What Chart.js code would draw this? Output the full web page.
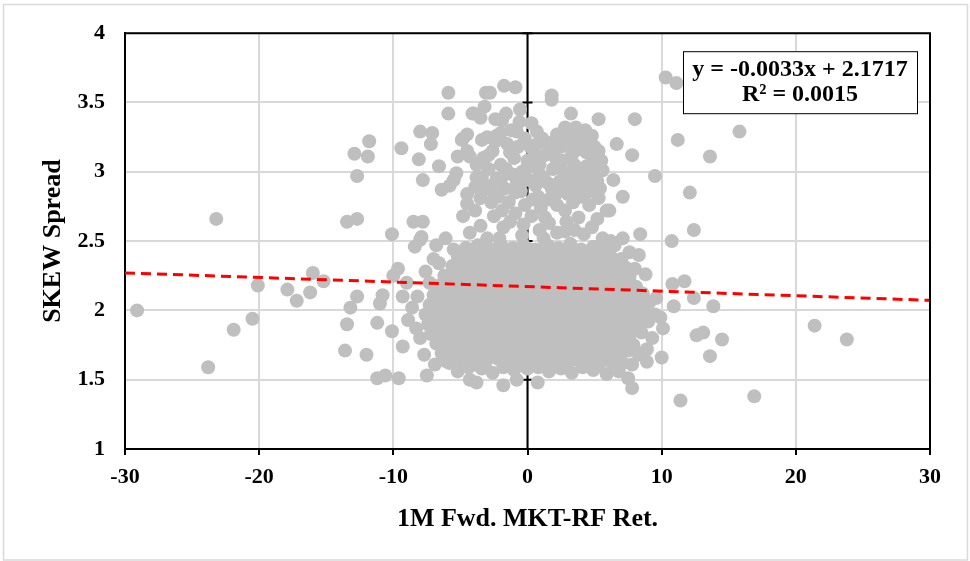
<!DOCTYPE html>
<html>
<head>
<meta charset="utf-8">
<title>SKEW Spread vs 1M Fwd. MKT-RF Ret.</title>
<script src="https://cdn.jsdelivr.net/npm/chart.js@4.4.1/dist/chart.umd.min.js"></script>
<style>
  html, body { margin: 0; padding: 0; background: #ffffff; }
  canvas { display: block; }
</style>
</head>
<body>
<canvas id="skewChart" width="970" height="561"></canvas>
<script>
// Scatter of SKEW spread against 1M forward MKT-RF return
const SERIF = "'Liberation Serif', 'Times New Roman', serif";

// scattered points away from the two clouds: [ret, skew]
const sparsePoints = [
    [-29.1, 2.00], [-23.2, 2.66], [-23.8, 1.59], [-21.9, 1.86], [-20.5, 1.94], [-20.1, 2.18],
    [-17.9, 2.15], [-17.2, 2.07], [-16.2, 2.13], [-16.0, 2.27], [-15.2, 2.21],
    [-13.45, 2.64], [-12.7, 2.66], [-12.7, 2.10], [-13.2, 2.02], [-13.45, 1.90], [-13.6, 1.71],
    [-12.0, 1.68], [-11.2, 1.51], [-11.2, 1.91],
    [-12.9, 3.13], [-11.8, 3.22], [-11.9, 3.11], [-12.7, 2.97], [-9.4, 3.17], [-8.0, 3.29],
    [-7.1, 3.28], [-7.2, 3.20], [-8.1, 3.09], [-6.6, 3.04], [-7.8, 2.94], [-6.4, 2.87],
    [-10.1, 2.55], [-8.5, 2.64], [-7.8, 2.64], [-7.9, 2.53], [-6.1, 2.52],
    [-5.9, 3.57], [-5.9, 3.42], [-3.1, 3.57], [-2.8, 3.57], [-1.75, 3.62], [-0.9, 3.61],
    [-0.56, 3.45], [1.8, 3.55], [1.8, 3.52], [3.24, 3.42], [5.3, 3.38], [8.0, 3.38],
    [10.3, 3.68], [11.1, 3.64], [11.2, 3.23], [9.5, 2.97], [12.1, 2.85], [12.4, 2.58],
    [6.65, 3.20], [7.8, 3.12], [6.4, 2.94], [7.1, 2.82], [6.1, 2.72], [8.4, 2.55], [7.1, 2.52],
    [10.75, 2.50], [15.8, 3.29], [13.6, 3.11],
    [10.8, 2.19], [11.7, 2.21], [12.4, 2.09], [10.9, 2.03], [13.85, 2.03], [10.1, 1.87],
    [12.6, 1.82], [13.1, 1.84], [14.5, 1.79], [13.6, 1.67], [10.0, 1.66], [8.9, 1.63],
    [11.4, 1.35], [16.9, 1.38], [9.6, 2.09], [21.4, 1.89], [23.8, 1.79], [7.8, 1.61],
    [7.5, 1.51], [7.8, 1.44], [0.76, 1.48], [8.0, 2.30],
    [-8.4, 2.46], [-8.0, 2.51], [-7.0, 2.37], [-9.65, 2.30], [-10.0, 2.25], [-7.6, 2.28],
    [-10.8, 2.11], [-11.0, 2.05], [-9.3, 2.10], [-8.2, 2.10], [-10.1, 1.85], [-9.3, 1.74],
    [-8.3, 1.87], [-10.6, 1.53], [-9.6, 1.51], [-7.5, 1.53], [-4.3, 1.50], [-3.8, 1.48],
    [-1.8, 1.46], [-0.8, 1.50], [-6.0, 1.63], [-4.5, 1.61],
    [-6.6, 2.34], [-7.3, 2.20], [-8.6, 2.02], [-8.9, 1.93], [-8.0, 1.80], [-7.7, 1.68],
    [-6.9, 1.61], [-9.0, 2.20], [-5.5, 2.44], [-6.8, 2.47],
    [8.8, 2.26], [8.3, 2.40], [9.3, 1.80], [9.9, 1.95], [8.9, 1.72], [6.2, 2.50], [7.6, 2.42]
];

// upper cloud around skew 2.6 - 3.4
const upperCluster = [
    [-4.0, 3.42], [-3.2, 3.47], [-1.9, 3.37], [-3.5, 3.39], [-4.5, 3.27], [-4.9, 3.23],
    [-5.2, 3.11], [-4.3, 3.11], [-3.4, 3.23], [-2.3, 3.26], [-0.8, 3.29], [-5.3, 2.99],
    [-3.8, 2.96], [-5.5, 2.94], [-5.8, 2.90], [-4.5, 2.84], [-3.5, 2.81], [-4.5, 2.77],
    [-1.9, 2.72], [-2.7, 2.90], [-1.3, 2.64], [-3.5, 2.61], [-4.3, 2.56], [-4.8, 3.24],
    [-3.0, 3.25], [-4.5, 3.15], [-4.1, 3.42],
    [0.7, 3.29], [2.3, 3.27], [4.8, 3.26], [3.5, 3.23], [5.0, 3.18], [5.5, 3.08], [5.6, 3.01],
    [5.0, 2.99], [4.3, 2.87], [5.3, 2.81], [5.9, 2.72], [3.8, 2.67], [4.8, 2.60], [2.8, 2.57],
    [1.3, 2.67], [0.8, 2.82], [3.0, 2.84], [2.9, 3.25], [3.9, 3.24], [2.2, 3.27],
    [-2.6, 3.15], [-2.0, 3.05], [-1.5, 3.20], [-1.0, 3.10], [-0.4, 3.00], [0.2, 3.18],
    [0.9, 3.05], [1.5, 3.20], [2.1, 3.10], [2.7, 3.00], [3.3, 3.12], [3.9, 3.02], [4.4, 3.14],
    [4.9, 3.07],
    [-2.3, 2.95], [-1.7, 2.88], [-1.1, 2.98], [-0.5, 2.86], [0.1, 2.94], [0.6, 2.90],
    [1.2, 2.96], [1.8, 2.88], [2.4, 2.93], [3.0, 2.97], [3.6, 2.91], [4.2, 2.96], [4.7, 2.93],
    [-2.9, 3.02], [-2.2, 2.82], [-1.4, 2.78], [-0.9, 2.85], [-0.2, 2.76], [0.4, 2.80],
    [1.0, 2.74], [1.6, 2.80], [2.2, 2.76], [2.8, 2.72], [3.4, 2.78], [4.0, 2.82], [4.6, 2.76],
    [-3.3, 3.10], [-2.4, 3.22], [-1.2, 3.30], [-0.2, 3.24], [0.5, 3.12], [1.1, 3.24],
    [1.9, 3.02], [2.5, 3.18], [3.1, 3.20], [3.8, 3.16], [4.4, 3.04], [5.2, 2.93],
    [-3.8, 3.05], [-3.9, 2.89], [-3.1, 2.88], [-2.7, 2.78], [-0.6, 3.36], [0.3, 3.35],
    [-1.6, 3.42], [-2.4, 3.38],
    [-2.5, 2.68], [-1.8, 2.60], [-0.9, 2.70], [-0.3, 2.62], [0.3, 2.68], [0.9, 2.58],
    [1.6, 2.63], [2.2, 2.56], [2.9, 2.64], [3.5, 2.58], [4.2, 2.55], [5.2, 2.66], [5.6, 2.52],
    [-3.0, 2.52], [-2.1, 2.52], [-0.4, 2.54], [1.2, 2.52], [-4.8, 2.68], [-3.9, 2.72],
    [-2.0, 3.28], [-1.3, 3.14], [-0.7, 3.18], [0.0, 3.08], [0.7, 3.20], [1.3, 3.12],
    [2.0, 3.22], [2.6, 3.08], [3.5, 3.05], [4.1, 3.21], [4.7, 3.00], [5.3, 3.15],
    [-2.6, 2.86], [-1.9, 2.96], [-0.8, 2.92], [-0.1, 3.02], [0.9, 2.98], [1.5, 2.92],
    [2.1, 2.84], [2.7, 2.90], [3.3, 2.98], [3.9, 2.86], [4.6, 2.86], [5.4, 2.88],
    [-3.4, 2.96], [-2.9, 3.12], [-1.6, 3.02], [-0.4, 2.94], [0.4, 3.04], [1.9, 3.16],
    [2.8, 3.32], [3.6, 3.32], [4.3, 3.30]
];

// dense lower cloud around skew 1.5 - 2.5
const coreCluster = [
    [-4.6, 2.45], [-3.7, 2.47], [-2.9, 2.44], [-2.0, 2.48], [-1.1, 2.45], [-0.3, 2.47], [0.6, 2.44],
    [1.5, 2.47], [2.3, 2.45], [3.2, 2.48], [4.0, 2.44], [4.9, 2.46], [5.7, 2.43], [6.5, 2.47],
    [-5.2, 2.39], [-4.2, 2.41], [-3.3, 2.38], [-2.5, 2.40], [-1.6, 2.42], [-0.7, 2.38], [0.2, 2.41],
    [1.0, 2.39], [1.9, 2.42], [2.8, 2.38], [3.6, 2.40], [4.5, 2.41], [5.3, 2.38], [6.1, 2.40], [7.0, 2.37],
    [-5.6, 2.32], [-4.7, 2.34], [-3.8, 2.31], [-2.9, 2.33], [-2.1, 2.35], [-1.2, 2.32], [-0.3, 2.34],
    [0.6, 2.31], [1.4, 2.33], [2.3, 2.35], [3.1, 2.32], [4.0, 2.34], [4.8, 2.31], [5.7, 2.33],
    [6.6, 2.34], [7.3, 2.31],
    [-6.2, 2.25], [-5.2, 2.27], [-4.3, 2.24], [-3.4, 2.26], [-2.5, 2.28], [-1.6, 2.25], [-0.8, 2.27],
    [0.1, 2.24], [1.0, 2.26], [1.8, 2.28], [2.7, 2.25], [3.5, 2.27], [4.4, 2.24], [5.2, 2.26],
    [6.1, 2.28], [6.9, 2.25], [7.6, 2.24],
    [-6.6, 2.18], [-5.7, 2.20], [-4.8, 2.17], [-3.9, 2.19], [-3.0, 2.21], [-2.1, 2.18], [-1.2, 2.20],
    [-0.4, 2.17], [0.5, 2.19], [1.4, 2.21], [2.2, 2.18], [3.1, 2.20], [3.9, 2.17], [4.8, 2.19],
    [5.6, 2.21], [6.5, 2.18], [7.3, 2.20], [8.1, 2.17],
    [-7.0, 2.11], [-6.1, 2.13], [-5.2, 2.10], [-4.3, 2.12], [-3.5, 2.14], [-2.6, 2.11], [-1.7, 2.13],
    [-0.8, 2.10], [0.1, 2.12], [0.9, 2.14], [1.8, 2.11], [2.6, 2.13], [3.5, 2.10], [4.3, 2.12],
    [5.2, 2.14], [6.0, 2.11], [6.9, 2.13], [7.7, 2.10], [8.6, 2.12],
    [-7.3, 2.04], [-6.5, 2.06], [-5.6, 2.03], [-4.7, 2.05], [-3.8, 2.07], [-2.9, 2.04], [-2.1, 2.06],
    [-1.2, 2.03], [-0.3, 2.05], [0.5, 2.07], [1.4, 2.04], [2.2, 2.06], [3.1, 2.03], [4.0, 2.05],
    [4.8, 2.07], [5.7, 2.04], [6.5, 2.06], [7.4, 2.03], [8.2, 2.05], [9.1, 2.06],
    [-7.6, 1.97], [-6.8, 1.99], [-5.9, 1.96], [-5.0, 1.98], [-4.2, 2.00], [-3.3, 1.97], [-2.4, 1.99],
    [-1.6, 1.96], [-0.7, 1.98], [0.2, 2.00], [1.0, 1.97], [1.9, 1.99], [2.7, 1.96], [3.6, 1.98],
    [4.4, 2.00], [5.3, 1.97], [6.1, 1.99], [7.0, 1.96], [7.8, 1.98], [8.7, 2.00], [9.5, 1.97],
    [-7.4, 1.90], [-6.5, 1.92], [-5.6, 1.89], [-4.8, 1.91], [-3.9, 1.93], [-3.0, 1.90], [-2.1, 1.92],
    [-1.2, 1.89], [-0.4, 1.91], [0.5, 1.93], [1.3, 1.90], [2.2, 1.92], [3.0, 1.89], [3.9, 1.91],
    [4.8, 1.93], [5.6, 1.90], [6.5, 1.92], [7.3, 1.89], [8.2, 1.91], [9.0, 1.92],
    [-7.2, 1.83], [-6.3, 1.85], [-5.4, 1.82], [-4.5, 1.84], [-3.6, 1.86], [-2.7, 1.83], [-1.9, 1.85],
    [-1.0, 1.82], [-0.1, 1.84], [0.8, 1.86], [1.6, 1.83], [2.5, 1.85], [3.3, 1.82], [4.2, 1.84],
    [5.1, 1.86], [5.9, 1.83], [6.8, 1.85], [7.6, 1.82], [8.5, 1.84],
    [-6.8, 1.76], [-5.9, 1.78], [-5.0, 1.75], [-4.2, 1.77], [-3.3, 1.79], [-2.4, 1.76], [-1.5, 1.78],
    [-0.6, 1.75], [0.2, 1.77], [1.1, 1.79], [2.0, 1.76], [2.8, 1.78], [3.7, 1.75], [4.5, 1.77],
    [5.4, 1.79], [6.2, 1.76], [7.1, 1.78], [7.9, 1.75],
    [-6.4, 1.69], [-5.5, 1.71], [-4.6, 1.68], [-3.7, 1.70], [-2.9, 1.72], [-2.0, 1.69], [-1.1, 1.71],
    [-0.2, 1.68], [0.7, 1.70], [1.5, 1.72], [2.4, 1.69], [3.2, 1.71], [4.1, 1.68], [5.0, 1.70],
    [5.8, 1.72], [6.7, 1.69], [7.5, 1.71], [8.3, 1.68],
    [-5.8, 1.62], [-4.9, 1.64], [-4.0, 1.61], [-3.1, 1.63], [-2.2, 1.65], [-1.4, 1.62], [-0.5, 1.64],
    [0.4, 1.61], [1.2, 1.63], [2.1, 1.65], [2.9, 1.62], [3.8, 1.64], [4.6, 1.61], [5.5, 1.63],
    [6.3, 1.65], [7.1, 1.62],
    [-5.2, 1.56], [-3.4, 1.58], [-2.6, 1.55], [-1.0, 1.57], [0.0, 1.58], [1.6, 1.56], [2.5, 1.58],
    [3.3, 1.55], [4.9, 1.57], [5.9, 1.54], [6.8, 1.56]
];

// in-between points that close the gaps of the lower cloud
const coreFill = [
    [-4.2, 2.43], [-3.3, 2.42], [-2.4, 2.44], [-1.5, 2.43], [-0.7, 2.42], [0.2, 2.44], [1.1, 2.43],
    [1.9, 2.42], [2.8, 2.44], [3.6, 2.43], [4.5, 2.42], [5.3, 2.44], [6.1, 2.43],
    [-4.9, 2.36], [-4.0, 2.37], [-3.1, 2.35], [-2.2, 2.37], [-1.4, 2.36], [-0.5, 2.35], [0.4, 2.37],
    [1.2, 2.36], [2.1, 2.38], [3.0, 2.36], [3.8, 2.35], [4.7, 2.37], [5.5, 2.36], [6.4, 2.37],
    [-5.4, 2.29], [-4.5, 2.30], [-3.6, 2.28], [-2.7, 2.30], [-1.8, 2.29], [-1.0, 2.28], [-0.1, 2.30],
    [0.8, 2.29], [1.6, 2.31], [2.5, 2.29], [3.4, 2.28], [4.2, 2.30], [5.1, 2.29], [5.9, 2.30], [6.8, 2.28],
    [-5.9, 2.22], [-5.0, 2.23], [-4.1, 2.21], [-3.2, 2.23], [-2.3, 2.22], [-1.5, 2.21], [-0.6, 2.23],
    [0.3, 2.22], [1.1, 2.24], [2.0, 2.22], [2.9, 2.21], [3.7, 2.23], [4.6, 2.22], [5.4, 2.23],
    [6.3, 2.21], [7.1, 2.23],
    [-6.3, 2.15], [-5.4, 2.16], [-4.5, 2.14], [-3.6, 2.16], [-2.8, 2.15], [-1.9, 2.14], [-1.0, 2.16],
    [-0.2, 2.15], [0.7, 2.17], [1.6, 2.15], [2.4, 2.14], [3.3, 2.16], [4.1, 2.15], [5.0, 2.16],
    [5.8, 2.14], [6.7, 2.16], [7.5, 2.15],
    [-6.8, 2.08], [-5.9, 2.09], [-5.0, 2.07], [-4.1, 2.09], [-3.3, 2.08], [-2.4, 2.07], [-1.5, 2.09],
    [-0.7, 2.08], [0.2, 2.10], [1.0, 2.08], [1.9, 2.07], [2.8, 2.09], [3.6, 2.08], [4.5, 2.09],
    [5.3, 2.07], [6.2, 2.09], [7.0, 2.08], [7.9, 2.07],
    [-7.0, 2.01], [-6.1, 2.02], [-5.2, 2.00], [-4.4, 2.02], [-3.5, 2.01], [-2.6, 2.00], [-1.8, 2.02],
    [-0.9, 2.01], [0.0, 2.03], [0.8, 2.01], [1.7, 2.00], [2.5, 2.02], [3.4, 2.01], [4.2, 2.02],
    [5.1, 2.00], [5.9, 2.02], [6.8, 2.01], [7.6, 2.00], [8.5, 2.02],
    [-6.9, 1.94], [-6.0, 1.95], [-5.1, 1.93], [-4.3, 1.95], [-3.4, 1.94], [-2.5, 1.93], [-1.7, 1.95],
    [-0.8, 1.94], [0.1, 1.96], [0.9, 1.94], [1.8, 1.93], [2.6, 1.95], [3.5, 1.94], [4.3, 1.95],
    [5.2, 1.93], [6.0, 1.95], [6.9, 1.94], [7.7, 1.93], [8.6, 1.95],
    [-6.8, 1.87], [-5.9, 1.88], [-5.0, 1.86], [-4.1, 1.88], [-3.2, 1.87], [-2.3, 1.86], [-1.5, 1.88],
    [-0.6, 1.87], [0.3, 1.89], [1.1, 1.87], [2.0, 1.86], [2.8, 1.88], [3.7, 1.87], [4.6, 1.88],
    [5.4, 1.86], [6.3, 1.88], [7.1, 1.87], [8.0, 1.86],
    [-6.4, 1.80], [-5.5, 1.81], [-4.6, 1.79], [-3.7, 1.81], [-2.8, 1.80], [-2.0, 1.79], [-1.1, 1.81],
    [-0.2, 1.80], [0.6, 1.82], [1.5, 1.80], [2.4, 1.79], [3.2, 1.81], [4.1, 1.80], [4.9, 1.81],
    [5.8, 1.79], [6.6, 1.81], [7.5, 1.80],
    [-6.0, 1.73], [-5.1, 1.74], [-4.2, 1.72], [-3.3, 1.74], [-2.4, 1.73], [-1.6, 1.72], [-0.7, 1.74],
    [0.2, 1.73], [1.0, 1.75], [1.9, 1.73], [2.8, 1.72], [3.6, 1.74], [4.5, 1.73], [5.3, 1.74],
    [6.2, 1.72], [7.0, 1.74], [7.9, 1.73],
    [-5.4, 1.66], [-4.5, 1.67], [-3.6, 1.65], [-2.7, 1.67], [-1.8, 1.66], [-0.9, 1.65], [0.0, 1.67],
    [0.8, 1.66], [1.7, 1.68], [2.5, 1.66], [3.4, 1.65], [4.2, 1.67], [5.1, 1.66], [5.9, 1.67], [6.8, 1.65],
    [-4.4, 1.59], [-3.6, 1.60], [-1.8, 1.59], [-0.3, 1.60], [0.8, 1.59], [2.0, 1.60], [4.1, 1.59],
    [5.2, 1.60], [6.4, 1.59]
];

// Excel linear trendline shown on the chart
const trendSlope = -0.0033;
const trendIntercept = 2.1717;
const trendRange = [-30, 30];
const equationLines = ['y = -0.0033x + 2.1717', 'R\u00B2 = 0.0015'];

const xTickValues = [-30, -20, -10, 0, 10, 20, 30];
const yTickValues = [1, 1.5, 2, 2.5, 3, 3.5, 4];

const scatterData = sparsePoints.concat(upperCluster, coreCluster, coreFill).map(function(p) {
    return { x: p[0], y: p[1] };
});
const trendData = trendRange.map(function(x) {
    return { x: x, y: trendSlope * x + trendIntercept };
});

// frame, zero axis line and equation box
const excelDecor = {
    id: 'excelDecor',
    beforeDraw: function(chart) {
        const ctx = chart.ctx;
        ctx.save();
        ctx.fillStyle = '#ffffff';
        ctx.fillRect(0, 0, chart.width, chart.height);
        ctx.strokeStyle = '#D9D9D9';
        ctx.lineWidth = 1.5;
        ctx.strokeRect(3.5, 4.5, chart.width - 6, chart.height - 5.5);
        ctx.restore();
    },
    beforeDatasetsDraw: function(chart) {
        const ctx = chart.ctx;
        const area = chart.chartArea;
        const x0 = chart.scales.x.getPixelForValue(0);
        ctx.save();
        ctx.strokeStyle = '#000000';
        ctx.lineWidth = 2;
        ctx.beginPath();
        ctx.moveTo(x0, area.top);
        ctx.lineTo(x0, area.bottom);
        yTickValues.forEach(function(v) {
            const py = chart.scales.y.getPixelForValue(v);
            ctx.moveTo(x0 - 5, py);
            ctx.lineTo(x0 + 5, py);
        });
        ctx.stroke();
        ctx.restore();
    },
    afterDatasetsDraw: function(chart) {
        const ctx = chart.ctx;
        const area = chart.chartArea;
        ctx.save();
        ctx.strokeStyle = '#000000';
        ctx.lineWidth = 2;
        ctx.beginPath();
        ctx.moveTo(area.left, area.top);
        ctx.lineTo(area.right, area.top);
        ctx.lineTo(area.right, area.bottom);
        ctx.stroke();

        // equation box in the top right corner
        const boxW = 234, boxH = 62;
        const boxX = area.right - 247, boxY = area.top + 18;
        ctx.fillStyle = '#ffffff';
        ctx.fillRect(boxX, boxY, boxW, boxH);
        ctx.lineWidth = 1;
        ctx.strokeRect(boxX + 0.5, boxY + 0.5, boxW, boxH);
        ctx.fillStyle = '#000000';
        ctx.font = 'bold 24px ' + SERIF;
        ctx.textAlign = 'center';
        ctx.textBaseline = 'middle';
        ctx.fillText(equationLines[0], boxX + boxW / 2, boxY + 19);
        ctx.fillText(equationLines[1], boxX + boxW / 2, boxY + 44);
        ctx.restore();
    }
};

const ctx = document.getElementById('skewChart').getContext('2d');
new Chart(ctx, {
    type: 'scatter',
    data: {
        datasets: [
            {
                label: 'Trend',
                type: 'line',
                data: trendData,
                borderColor: '#FF0000',
                borderWidth: 3,
                borderDash: [10, 6],
                pointRadius: 0,
                fill: false,
                order: 0
            },
            {
                label: 'SKEW Spread',
                data: scatterData,
                backgroundColor: '#BFBFBF',
                borderWidth: 0,
                pointRadius: 7,
                order: 1
            }
        ]
    },
    options: {
        responsive: false,
        animation: false,
        devicePixelRatio: 1,
        layout: { padding: { top: 32, right: 40, bottom: 0, left: 0 } },
        plugins: {
            legend: { display: false },
            tooltip: { enabled: false }
        },
        scales: {
            x: {
                type: 'linear',
                min: -30,
                max: 30,
                afterFit: function(scale) { scale.height = 112; },
                afterBuildTicks: function(scale) {
                    scale.ticks = xTickValues.map(function(v) { return { value: v }; });
                },
                grid: { color: '#D9D9D9', lineWidth: 2, tickColor: '#000000', tickLength: 6, tickWidth: 2 },
                border: { color: '#000000', width: 2 },
                ticks: {
                    color: '#000000',
                    padding: 9,
                    font: { family: SERIF, size: 22, weight: 'bold' },
                    callback: function(v) { return String(v); }
                },
                title: {
                    display: true,
                    text: '1M Fwd. MKT-RF Ret.',
                    color: '#000000',
                    padding: { top: 0, bottom: 26 },
                    font: { family: SERIF, size: 26, weight: 'bold' }
                }
            },
            y: {
                type: 'linear',
                min: 1,
                max: 4,
                afterFit: function(scale) { scale.width = 125; },
                afterBuildTicks: function(scale) {
                    scale.ticks = yTickValues.map(function(v) { return { value: v }; });
                },
                grid: { color: '#D9D9D9', lineWidth: 2, drawTicks: false },
                border: { color: '#000000', width: 2 },
                ticks: {
                    color: '#000000',
                    padding: 20,
                    font: { family: SERIF, size: 22, weight: 'bold' },
                    callback: function(v) { return String(v); }
                },
                title: {
                    display: true,
                    text: 'SKEW Spread',
                    color: '#000000',
                    padding: { top: 38, bottom: 0 },
                    font: { family: SERIF, size: 26, weight: 'bold' }
                }
            }
        }
    },
    plugins: [excelDecor]
});
</script>
</body>
</html>
